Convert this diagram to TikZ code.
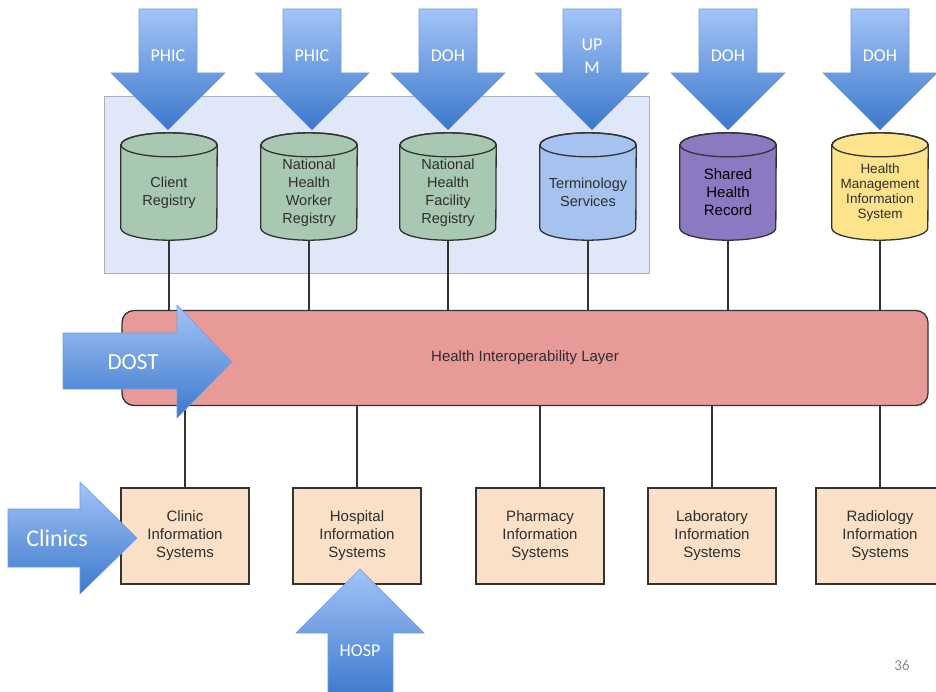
\documentclass[tikz,border=0pt]{standalone}
\usepackage{fontspec}
\setmainfont{Liberation Sans}
\newfontfamily\calfont{Carlito}
\usetikzlibrary{calc}
\definecolor{lightbox}{HTML}{DFE7F8}
\definecolor{lightboxline}{HTML}{A8B0BE}
\definecolor{cgreen}{HTML}{A8C8B2}
\definecolor{cblue}{HTML}{A6C3F0}
\definecolor{cpurple}{HTML}{8B79C2}
\definecolor{cyellow}{HTML}{FDE38C}
\definecolor{layerfill}{HTML}{E89A99}
\definecolor{boxfill}{HTML}{F9E0C6}
\definecolor{linecol}{HTML}{333333}
\definecolor{txtcol}{HTML}{2E2E2E}
\definecolor{arrtop}{HTML}{A3C4F7}
\definecolor{arrbot}{HTML}{3B78CC}
\definecolor{arredge}{HTML}{6D9DE3}
\definecolor{pagenum}{HTML}{8A8A8A}
\pgfdeclarelayer{bg}
\pgfdeclarelayer{mid}
\pgfsetlayers{bg,mid,main}
\tikzset{
  cylbody/.style={minimum width=96pt, minimum height=95pt, inner sep=0pt, align=center,
    text=txtcol, font=\fontsize{14.5}{18}\selectfont},
  cylline/.style={draw=linecol, line width=1.3pt},
  sysbox/.style={draw=linecol, line width=1.5pt, fill=boxfill, minimum width=128pt,
    minimum height=96pt, inner sep=0pt, align=center, text=txtcol,
    font=\fontsize{15}{18}\selectfont},
  link/.style={draw=linecol, line width=1.5pt},
  bigarrow/.style={top color=arrtop, bottom color=arrbot, draw=arredge, line width=0.6pt},
  arrlabel/.style={text=white, font=\calfont\fontsize{18}{23}\selectfont, align=center, inner sep=0pt},
}
\newcommand\mycyl[5][]{%
  \node[cylbody, #1] (#2) at (#3,-192.5) {#5};
  \begin{pgfonlayer}{mid}
    \draw[cylline, fill=#4] (#2.north west) -- ([yshift=12pt]#2.south west)
      arc[start angle=180, end angle=360, x radius=48pt, y radius=12pt]
      -- (#2.north east)
      arc[start angle=0, end angle=180, x radius=48pt, y radius=12pt] -- cycle;
    \draw[cylline] (#2.north) ellipse[x radius=48pt, y radius=12pt];
  \end{pgfonlayer}}
\newcommand\mydownarrow[3]{%
  \begin{scope}[shift={(#2,0)}]
    \shade[bigarrow] (-29,-9) -- (29,-9) -- (29,-73) -- (57,-73) -- (0,-130)
      -- (-57,-73) -- (-29,-73) -- cycle;
    \node[arrlabel] (#1) at (0,-56) {#3};
  \end{scope}}
\begin{document}
\begin{tikzpicture}[x=1pt, y=1pt]
\useasboundingbox (0,0) rectangle (936,-692);
\clip (0,0) rectangle (936,-692);

\begin{pgfonlayer}{bg}
  \fill[white] (0,0) rectangle (936,-692);
  \draw[fill=lightbox, draw=lightboxline, line width=0.8pt] (104,-96) rectangle (649,-273);
\end{pgfonlayer}

% cylinders
\mycyl{cr}{169}{cgreen}{Client\\Registry}
\mycyl{nhwr}{309}{cgreen}{National\\Health\\Worker\\Registry}
\mycyl{nhfr}{448}{cgreen}{National\\Health\\Facility\\Registry}
\mycyl{ts}{588}{cblue}{Terminology\\Services}
\mycyl[text=black, font=\fontsize{15}{18}\selectfont]{shr}{728}{cpurple}{Shared\\Health\\Record}
\mycyl[font=\fontsize{13.5}{15}\selectfont]{hmis}{880}{cyellow}{Health\\Management\\Information\\System}

% interoperability layer
\node[draw=linecol, line width=1.3pt, fill=layerfill, rounded corners=12pt,
  minimum width=806pt, minimum height=95pt, text=txtcol,
  font=\fontsize{15}{18}\selectfont] (layer) at (525,-358) {Health Interoperability Layer};

% system boxes
\node[sysbox] (cis) at (185,-536) {Clinic\\Information\\Systems};
\node[sysbox] (his) at (357,-536) {Hospital\\Information\\Systems};
\node[sysbox] (pis) at (540,-536) {Pharmacy\\Information\\Systems};
\node[sysbox] (lis) at (712,-536) {Laboratory\\Information\\Systems};
\node[sysbox] (ris) at (880,-536) {Radiology\\Information\\Systems};

% connectors
\begin{pgfonlayer}{mid}
\foreach \n in {cr,nhwr,nhfr,ts,shr,hmis}{
  \draw[link] (\n.south) -- (\n.south |- layer.north);
}
\foreach \n in {cis,his,pis,lis,ris}{
  \draw[link] (\n.north) -- (\n.north |- layer.south);
}
\end{pgfonlayer}

% top arrows
\mydownarrow{a1}{168}{PHIC}
\mydownarrow{a2}{312}{PHIC}
\mydownarrow{a3}{448}{DOH}
\begin{scope}[shift={(592,0)}]
  \shade[bigarrow] (-29,-9) -- (29,-9) -- (29,-73) -- (57,-73) -- (0,-130)
    -- (-57,-73) -- (-29,-73) -- cycle;
  \node[arrlabel] (a4) at (0,-56) {UP\\M};
\end{scope}
\mydownarrow{a5}{728}{DOH}
\mydownarrow{a6}{880}{DOH}

% DOST arrow
\shade[bigarrow] (63,-333) -- (177,-333) -- (177,-305) -- (232,-362) -- (177,-418)
  -- (177,-389) -- (63,-389) -- cycle;
\node[arrlabel, font=\calfont\fontsize{23}{26}\selectfont] (dost) at (133,-362) {DOST};

% Clinics arrow
\shade[bigarrow] (8,-509) -- (80,-509) -- (80,-482) -- (137,-538) -- (80,-594)
  -- (80,-567) -- (8,-567) -- cycle;
\node[arrlabel, font=\calfont\fontsize{24}{26}\selectfont] (clinics) at (57,-538) {Clinics};

% HOSP arrow
\shade[bigarrow] (360,-569) -- (424,-633) -- (393,-633) -- (393,-700) -- (328,-700)
  -- (328,-633) -- (296,-633) -- cycle;
\node[arrlabel] (hosp) at (360,-651) {HOSP};

% page number
\node[text=pagenum, font=\calfont\fontsize{15}{18}\selectfont, inner sep=0pt] (pnum) at (902,-665) {36};
\end{tikzpicture}
\end{document}
